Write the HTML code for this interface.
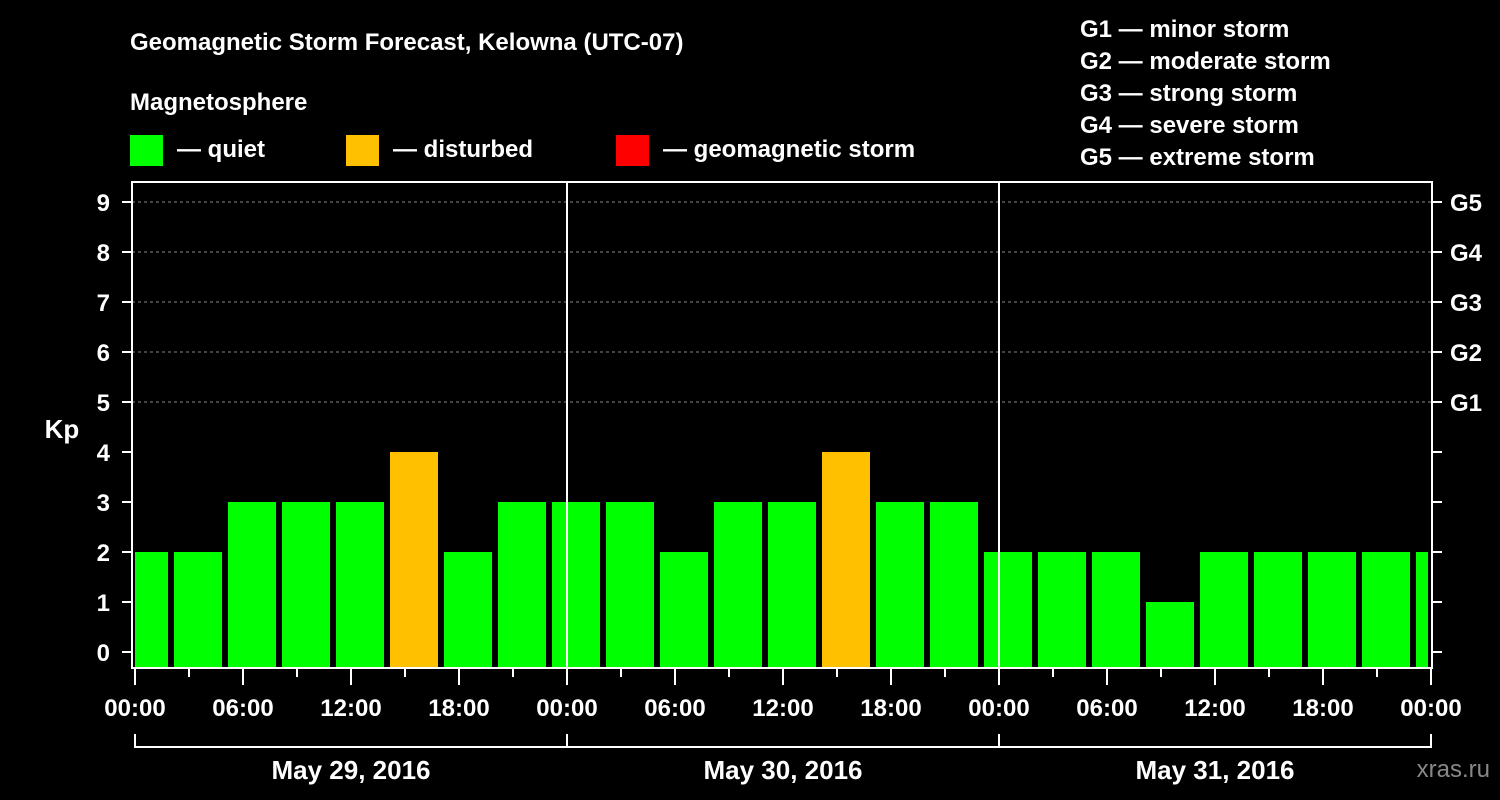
<!DOCTYPE html>
<html><head><meta charset="utf-8"><style>
body{margin:0;background:#000;}
svg{display:block;font-family:"Liberation Sans",Arial,sans-serif;font-weight:bold;}
</style></head><body>
<svg id="c" width="1500" height="800" viewBox="0 0 1500 800">
<rect width="1500" height="800" fill="#000"/>
<text x="130" y="50" fill="#fff" font-size="24">Geomagnetic Storm Forecast, Kelowna (UTC-07)</text>
<text x="130" y="110" fill="#fff" font-size="24">Magnetosphere</text>
<g><rect x="130" y="135" width="33" height="31" fill="#00ff00"/><text x="177" y="157" fill="#fff" font-size="24">— quiet</text></g>
<g><rect x="346" y="135" width="33" height="31" fill="#ffc000"/><text x="393" y="157" fill="#fff" font-size="24">— disturbed</text></g>
<g><rect x="616" y="135" width="33" height="31" fill="#ff0000"/><text x="663" y="157" fill="#fff" font-size="24">— geomagnetic storm</text></g>
<g fill="#fff" font-size="24">
<text x="1080" y="37">G1 — minor storm</text><text x="1080" y="69">G2 — moderate storm</text><text x="1080" y="101">G3 — strong storm</text><text x="1080" y="133">G4 — severe storm</text><text x="1080" y="165">G5 — extreme storm</text></g>
<g id="grid"></g><g id="bars"></g><g id="axes"></g>
<text x="62" y="438" fill="#fff" font-size="26" text-anchor="middle">Kp</text>
<text x="1490" y="777" fill="#888" font-size="24" text-anchor="end" font-weight="normal">xras.ru</text>
</svg>
<script>
const values=[2,2,3,3,3,4,2,3,3,3,2,3,3,4,3,3,2,2,2,1,2,2,2,2,2];
const startHour=-1;
const yTicks=[0,1,2,3,4,5,6,7,8,9];
const gLabels=["G1","G2","G3","G4","G5"];
const xLabels=["00:00","06:00","12:00","18:00","00:00","06:00","12:00","18:00","00:00","06:00","12:00","18:00","00:00"];
const days=["May 29, 2016","May 30, 2016","May 31, 2016"];
const NS="http://www.w3.org/2000/svg";
const X=h=>135+h*18, Y=v=>652-v*50;
function mk(p,t,a){const e=document.createElementNS(NS,t);for(const k in a)e.setAttribute(k,a[k]);p.appendChild(e);return e;}
const grid=document.getElementById('grid'),bars=document.getElementById('bars'),ax=document.getElementById('axes');
for(let v=5;v<=9;v++){const l=mk(grid,'line',{x1:132,x2:1432,y1:Y(v),y2:Y(v),stroke:'#888','stroke-dasharray':'3,3'});

}
values.forEach((v,i)=>{const h=startHour+3*i;let x1=Math.max(X(h)+3,X(0)),x2=Math.min(X(h+3)-3,X(72)-3);
const r=mk(bars,'rect',{x:x1,y:Y(v),width:x2-x1,height:668-Y(v),fill:v>=5?'#ff0000':v>=4?'#ffc000':'#00ff00'});

});
mk(ax,'rect',{x:132,y:182,width:1300,height:486,fill:'none',stroke:'#fff','stroke-width':2});
[1,2].forEach(d=>mk(ax,'line',{x1:X(24*d),x2:X(24*d),y1:182,y2:668,stroke:'#fff','stroke-width':2}));
yTicks.forEach(v=>{mk(ax,'line',{x1:122,x2:132,y1:Y(v),y2:Y(v),stroke:'#fff','stroke-width':2});
mk(ax,'line',{x1:1432,x2:1442,y1:Y(v),y2:Y(v),stroke:'#fff','stroke-width':2});
const t=mk(ax,'text',{x:110,y:Y(v)+9,fill:'#fff','font-size':24,'text-anchor':'end'});t.textContent=v;

});
gLabels.forEach((g,i)=>{const t=mk(ax,'text',{x:1450,y:Y(5+i)+9,fill:'#fff','font-size':24});t.textContent=g;

});
for(let h=0;h<=72;h+=3){const maj=h%6==0;mk(ax,'line',{x1:X(h),x2:X(h),y1:669,y2:maj?685:677,stroke:'#fff','stroke-width':2});}
xLabels.forEach((s,i)=>{const t=mk(ax,'text',{x:X(i*6),y:716,fill:'#fff','font-size':24,'text-anchor':'middle'});t.textContent=s;

});
mk(ax,'line',{x1:X(0),x2:X(72),y1:747,y2:747,stroke:'#fff','stroke-width':2});
for(let d=0;d<=3;d++)mk(ax,'line',{x1:X(24*d),x2:X(24*d),y1:734,y2:748,stroke:'#fff','stroke-width':2});
days.forEach((s,i)=>{const t=mk(ax,'text',{x:X(24*i+12),y:779,fill:'#fff','font-size':26,'text-anchor':'middle'});t.textContent=s;

});
</script>
</body></html>
